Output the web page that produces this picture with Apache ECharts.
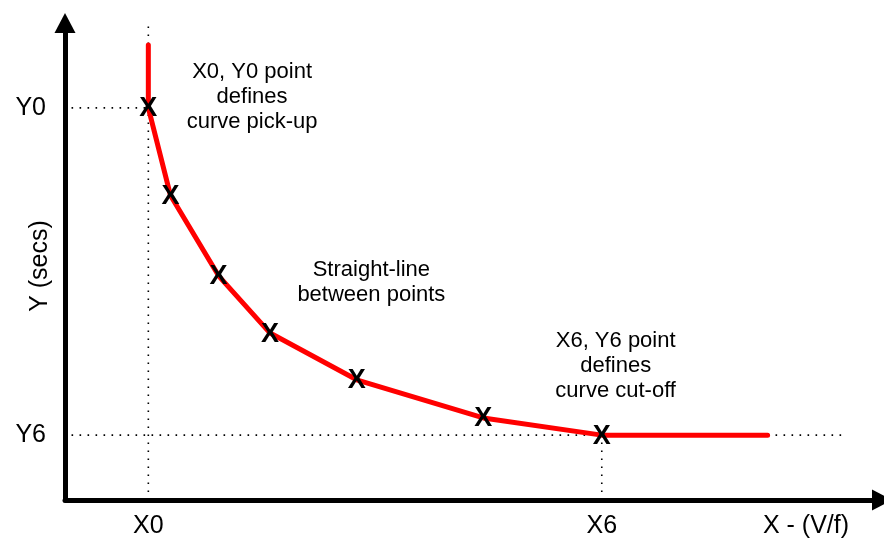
<!DOCTYPE html>
<html>
<head>
<meta charset="utf-8">
<script src="https://cdn.jsdelivr.net/npm/echarts@6/dist/echarts.min.js"></script>
<style>
  html, body { margin: 0; padding: 0; background: #fff; }
  #main { width: 884px; height: 542px; }
</style>
</head>
<body>
<div id="main"></div>
<script>
var myChart = echarts.init(document.getElementById('main'));

// curve through the defined points (plus pick-up start and cut-off tail)
var curveX = [10.2, 10.2, 12.9, 18.8, 25.1, 35.7, 51.2, 65.7, 86.0];
var curveY = [95.4, 82.2, 63.9, 47.0, 35.0, 25.2, 17.2, 13.6, 13.6];

// the X marks
var pointX = [10.2, 12.9, 18.8, 25.1, 35.7, 51.2, 65.7];
var pointY = [82.2, 63.9, 47.0, 35.0, 25.2, 17.2, 13.6];

// tick labels
var xTickValues = [10.2, 65.7, 90.7];
var xTickLabels = ['X0', 'X6', 'X - (V/f)'];
var yTickValues = [82.2, 13.6];
var yTickLabels = ['Y0', 'Y6'];

// notes
var noteX = [22.9, 37.5, 67.4];
var noteY = [84.5, 45.7, 28.1];
var noteText = [
  'X0, Y0 point\ndefines\ncurve pick-up',
  'Straight-line\nbetween points',
  'X6, Y6 point\ndefines\ncurve cut-off'
];

var font = 'Liberation Sans, Arial, sans-serif';

function zip(xs, ys) {
  return xs.map(function (x, i) { return [x, ys[i]]; });
}
function lookup(values, labels) {
  return function (v) {
    var i = values.indexOf(v);
    return i < 0 ? '' : labels[i];
  };
}

var dotted = {
  color: '#000',
  width: 1.6,
  type: [1.6, 6.4]
};
function guide(data) {
  return {
    type: 'line',
    data: data,
    symbol: 'none',
    silent: true,
    clip: false,
    lineStyle: dotted
  };
}

var X0 = pointX[0], Y0 = pointY[0];
var X6 = pointX[6], Y6 = pointY[6];

var option = {
  animation: false,
  grid: { left: 65, right: 2, top: 23, bottom: 42, containLabel: false, outerBoundsMode: 'none' },
  xAxis: {
    type: 'value',
    min: 0,
    max: 100,
    splitLine: { show: false },
    axisTick: { show: false },
    axisLine: {
      symbol: ['none', 'triangle'],
      symbolSize: [21, 20],
      lineStyle: { color: '#000', width: 5 }
    },
    axisLabel: {
      customValues: xTickValues,
      formatter: lookup(xTickValues, xTickLabels),
      color: '#000',
      fontSize: 25,
      fontFamily: font,
      margin: 14
    }
  },
  yAxis: {
    type: 'value',
    min: 0,
    max: 100,
    name: 'Y (secs)',
    nameLocation: 'middle',
    nameGap: 12,
    nameMoveOverlap: false,
    nameTextStyle: { color: '#000', fontSize: 25, fontFamily: font, padding: [0, 9, 0, 0] },
    splitLine: { show: false },
    axisTick: { show: false },
    axisLine: {
      symbol: ['none', 'triangle'],
      symbolSize: [21, 20],
      lineStyle: { color: '#000', width: 5 }
    },
    axisLabel: {
      customValues: yTickValues,
      formatter: lookup(yTickValues, yTickLabels),
      color: '#000',
      fontSize: 25,
      fontFamily: font,
      margin: 19
    }
  },
  series: [
    guide([[0.8, Y0], [X0, Y0]]),
    guide([[X0, 0], [X0, 100.6]]),
    guide([[0.8, Y6], [95.2, Y6]]),
    guide([[X6, 0], [X6, Y6]]),
    {
      type: 'line',
      data: zip(curveX, curveY),
      symbol: 'none',
      clip: false,
      lineStyle: { color: '#ff0000', width: 5, cap: 'round', join: 'round' }
    },
    {
      type: 'scatter',
      z: 5,
      data: zip(pointX, pointY),
      symbolSize: 1,
      itemStyle: { color: 'rgba(0,0,0,0)', opacity: 1 },
      label: {
        show: true,
        position: 'inside',
        formatter: 'X',
        color: '#000',
        fontSize: 27,
        fontWeight: 'bold',
        fontFamily: font,
        offset: [0, 1]
      }
    },
    {
      type: 'scatter',
      z: 5,
      data: noteX.map(function (x, i) { return [x, noteY[i], noteText[i]]; }),
      symbolSize: 1,
      itemStyle: { color: 'rgba(0,0,0,0)', opacity: 1 },
      label: {
        show: true,
        position: 'inside',
        formatter: function (p) { return p.value[2]; },
        color: '#000',
        fontSize: 22,
        lineHeight: 25,
        align: 'center',
        fontFamily: font
      }
    }
  ]
};

option && myChart.setOption(option);
</script>
</body>
</html>
